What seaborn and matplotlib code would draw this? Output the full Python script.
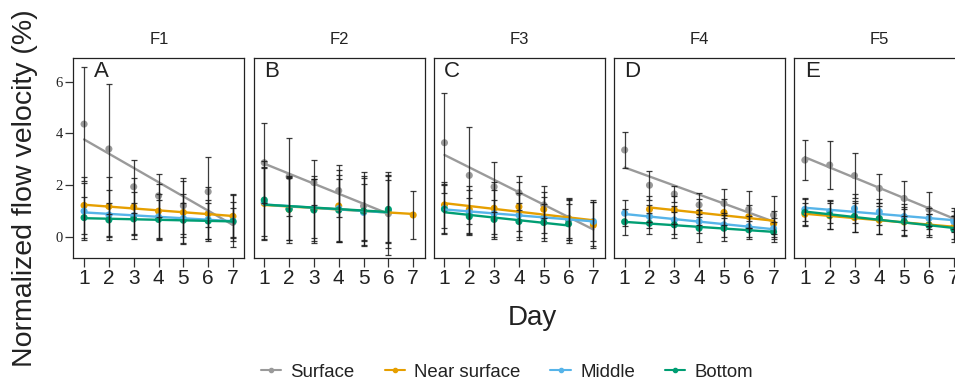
import numpy as np
import pandas as pd
import matplotlib
matplotlib.use("Agg")
import matplotlib.pyplot as plt
import seaborn as sns
from matplotlib.lines import Line2D

nan = np.nan
days = [1, 2, 3, 4, 5, 6, 7]
panels = ["F1", "F2", "F3", "F4", "F5"]
letters = ["A", "B", "C", "D", "E"]
series = ["Surface", "Near surface", "Middle", "Bottom"]
colors = ["#9a9a9a", "#E69F00", "#56B4E9", "#009E73"]
yticks = [0, 2, 4, 6]

# ---- F1 ----
surf_F1 = [4.36, 3.40, 1.94, 1.59, 1.21, 1.75, 0.57]
surf_F1_sd = [2.20, 2.50, 1.03, 0.83, 1.08, 1.35, 0.55]
near_F1 = [1.22, 1.18, 1.16, 1.00, 0.95, 0.90, 0.80]
near_F1_sd = [1.10, 1.15, 1.10, 1.05, 1.20, 1.05, 0.85]
mid_F1 = [1.00, 0.85, 0.82, 0.78, 0.72, 0.68, 0.62]
mid_F1_sd = [1.10, 0.95, 0.90, 0.90, 0.95, 0.75, 1.00]
bot_F1 = [0.75, 0.66, 0.70, 0.68, 0.65, 0.62, 0.60]
bot_F1_sd = [0.80, 0.65, 0.60, 0.75, 0.65, 0.70, 0.75]

# ---- F2 ----
surf_F2 = [2.87, 2.33, 2.10, 1.79, 1.20, 0.90, nan]
surf_F2_sd = [1.54, 1.50, 0.87, 1.00, 1.30, 1.60, nan]
near_F2 = [1.30, 1.07, 1.07, 1.20, 0.98, 0.98, 0.85]
near_F2_sd = [1.40, 1.20, 1.30, 1.40, 1.30, 1.40, 0.94]
mid_F2 = [1.35, 1.10, 1.10, 1.10, 0.95, 1.00, nan]
mid_F2_sd = [1.30, 1.20, 1.15, 1.30, 1.10, 1.20, nan]
bot_F2 = [1.43, 1.07, 1.04, 1.04, 1.00, 1.07, nan]
bot_F2_sd = [1.50, 1.30, 1.20, 1.20, 1.35, 1.30, nan]

# ---- F3 ----
surf_F3 = [3.64, 2.38, 1.94, 1.71, 1.24, 0.65, 0.55]
surf_F3_sd = [1.93, 1.86, 0.97, 0.65, 0.51, 0.78, 0.88]
near_F3 = [1.24, 1.07, 1.11, 1.17, 1.07, 0.72, 0.46]
near_F3_sd = [0.90, 0.90, 1.00, 0.95, 0.90, 0.75, 0.90]
mid_F3 = [1.10, 0.95, 0.90, 0.85, 0.75, 0.70, 0.60]
mid_F3_sd = [0.95, 0.85, 0.90, 0.85, 0.80, 0.80, 0.75]
bot_F3 = [1.07, 0.79, 0.68, 0.60, 0.56, 0.51, nan]
bot_F3_sd = [0.95, 0.70, 0.75, 0.70, 0.70, 0.75, nan]

# ---- F4 ----
surf_F4 = [3.36, 2.00, 1.66, 1.24, 1.30, 1.07, 0.85]
surf_F4_sd = [0.70, 0.56, 0.30, 0.47, 0.57, 0.72, 0.73]
near_F4 = [nan, 1.07, 1.05, 0.95, 0.95, 0.79, 0.51]
near_F4_sd = [nan, 0.50, 0.55, 0.50, 0.50, 0.45, 0.50]
mid_F4 = [0.92, 0.79, 0.66, 0.60, 0.47, 0.40, 0.33]
mid_F4_sd = [0.50, 0.45, 0.55, 0.45, 0.45, 0.40, 0.40]
bot_F4 = [0.59, 0.53, 0.47, 0.34, 0.34, 0.28, 0.20]
bot_F4_sd = [0.50, 0.40, 0.50, 0.55, 0.50, 0.35, 0.40]

# ---- F5 ----
surf_F5 = [2.97, 2.78, 2.37, 1.88, 1.49, 1.07, 0.72]
surf_F5_sd = [0.78, 0.93, 0.88, 0.55, 0.68, 0.66, 0.40]
near_F5 = [0.88, 0.82, 0.75, 0.65, 0.58, 0.48, 0.38]
near_F5_sd = [0.45, 0.50, 0.55, 0.55, 0.50, 0.40, 0.45]
mid_F5 = [1.07, 0.98, 1.10, 0.98, 0.79, 0.72, 0.60]
mid_F5_sd = [0.45, 0.45, 0.55, 0.50, 0.50, 0.40, 0.40]
bot_F5 = [0.95, 0.85, 0.80, 0.72, 0.60, 0.45, 0.30]
bot_F5_sd = [0.50, 0.55, 0.60, 0.60, 0.55, 0.45, 0.50]

data = {
    "F1": [(surf_F1, surf_F1_sd), (near_F1, near_F1_sd), (mid_F1, mid_F1_sd), (bot_F1, bot_F1_sd)],
    "F2": [(surf_F2, surf_F2_sd), (near_F2, near_F2_sd), (mid_F2, mid_F2_sd), (bot_F2, bot_F2_sd)],
    "F3": [(surf_F3, surf_F3_sd), (near_F3, near_F3_sd), (mid_F3, mid_F3_sd), (bot_F3, bot_F3_sd)],
    "F4": [(surf_F4, surf_F4_sd), (near_F4, near_F4_sd), (mid_F4, mid_F4_sd), (bot_F4, bot_F4_sd)],
    "F5": [(surf_F5, surf_F5_sd), (near_F5, near_F5_sd), (mid_F5, mid_F5_sd), (bot_F5, bot_F5_sd)],
}

rows = []
for p in panels:
    for s, (m, sd) in zip(series, data[p]):
        for d, mv, sv in zip(days, m, sd):
            rows.append({"panel": p, "series": s, "day": d, "mean": mv, "sd": sv})
df = pd.DataFrame(rows).dropna()

sns.set_theme(style="ticks")
plt.rcParams['font.family'] = ['Liberation Sans', 'DejaVu Sans']

fig, axes = plt.subplots(1, 5, figsize=(9.55, 3.86), dpi=100, sharey=True)
W, H = 955.0, 386.0
letter_x = [0.163, 0.104, 0.105, 0.108, 0.11]

for i, (ax, p) in enumerate(zip(axes, panels)):
    ax.set_position([(73.4 + i * 180.2) / W, 1 - 258.3 / H, 171 / W, (258.3 - 58) / H])
    sub = df[df.panel == p]
    sns.scatterplot(data=sub, x="day", y="mean", hue="series", hue_order=series,
                    palette=colors, s=26, edgecolor="none", legend=False, ax=ax, zorder=2)
    for s, c in zip(series, colors):
        ss = sub[sub.series == s]
        sns.regplot(data=ss, x="day", y="mean", scatter=False, ci=None, truncate=True,
                    color=c, line_kws={"lw": 1.7, "zorder": 3}, ax=ax)
    for s, c in zip(series, colors):
        ss = sub[sub.series == s]
        ax.errorbar(ss["day"], ss["mean"], yerr=ss["sd"], fmt="none", ecolor="#1a1a1a",
                    elinewidth=0.9, capsize=2.4, capthick=0.9, alpha=0.85, zorder=4)
    ax.set_xlim(0.57, 7.46)
    ax.set_ylim(-0.82, 6.91)
    ax.set_xticks(days)
    ax.set_xticklabels([str(d) for d in days])
    ax.set_xlabel("")
    ax.set_ylabel("")
    ax.set_title(p, fontsize=12, pad=10, color="#222222")
    ax.text(letter_x[i], 0.985, letters[i], transform=ax.transAxes, ha="center", va="top",
            fontsize=16, color="#222222")
    for sp in ax.spines.values():
        sp.set_color("#222222")
        sp.set_linewidth(0.9)
    ax.tick_params(axis="x", direction="out", length=6.5, width=0.9, color="#333333",
                   labelsize=15, pad=1.5, labelcolor="#222222")
    if i == 0:
        ax.set_yticks(yticks)
        ax.tick_params(axis="y", direction="out", length=5.5, width=0.9, color="#333333",
                       labelsize=10.5, pad=2, labelcolor="#222222")
        for lab in ax.get_yticklabels():
            lab.set_fontfamily("Liberation Serif")
    else:
        ax.tick_params(axis="y", left=False, labelleft=False)

fig.text(25 / W, 1 - 188.5 / H, "Normalized flow velocity (%)", rotation=90,
         ha="center", va="center", fontsize=20.5, color="#222222")
fig.text(532 / W, 1 - 318 / H, "Day", ha="center", va="center", fontsize=20, color="#222222")

handles = [Line2D([0], [0], color=c, lw=1.5, marker="o", markersize=3) for c in colors]
fig.legend(handles, series, loc="center", bbox_to_anchor=(507 / W, 1 - 372 / H), ncol=4,
           frameon=False, fontsize=13.4, handlelength=1.1, handletextpad=0.5,
           columnspacing=1.6, labelcolor="#222222")

fig.savefig("out.png", dpi=100)
